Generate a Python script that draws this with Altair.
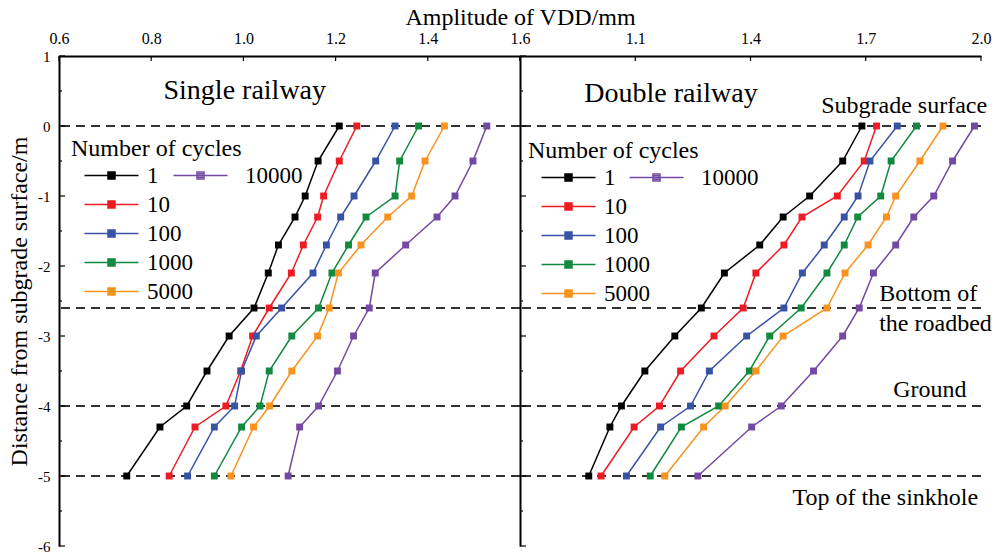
import altair as alt
import pandas as pd

FONT = "Liberation Serif"
INK = "#000000"

# depth of each measuring point below the subgrade surface (m)
depth = [0, -0.5, -1, -1.3, -1.7, -2.1, -2.6, -3, -3.5, -4, -4.3, -5]
cycles = ["1", "10", "100", "1000", "5000", "10000"]
palette = ["#000000", "#ed1c24", "#3953a4", "#11893f", "#f7931e", "#7349a3"]

# single railway: VDD amplitude (mm) per number of cycles
single_1 = [1.208, 1.162, 1.134, 1.112, 1.076, 1.054, 1.023, 0.969, 0.921, 0.877, 0.819, 0.747]
single_10 = [1.246, 1.208, 1.174, 1.161, 1.130, 1.104, 1.056, 1.020, 0.994, 0.962, 0.895, 0.839]
single_100 = [1.329, 1.287, 1.240, 1.211, 1.180, 1.151, 1.083, 1.028, 0.996, 0.981, 0.937, 0.879]
single_1000 = [1.380, 1.339, 1.329, 1.266, 1.228, 1.192, 1.163, 1.105, 1.056, 1.036, 0.996, 0.937]
single_5000 = [1.436, 1.394, 1.365, 1.313, 1.255, 1.206, 1.186, 1.161, 1.105, 1.057, 1.022, 0.973]
single_10000 = [1.528, 1.498, 1.459, 1.420, 1.352, 1.286, 1.273, 1.239, 1.204, 1.163, 1.122, 1.097]

# double railway: VDD amplitude (mm) per number of cycles
double_1 = [1.690, 1.640, 1.554, 1.485, 1.424, 1.332, 1.272, 1.203, 1.125, 1.064, 1.034, 0.979]
double_10 = [1.728, 1.696, 1.626, 1.534, 1.487, 1.414, 1.381, 1.305, 1.218, 1.163, 1.097, 1.011]
double_100 = [1.782, 1.711, 1.680, 1.644, 1.592, 1.535, 1.487, 1.390, 1.293, 1.244, 1.166, 1.077]
double_1000 = [1.832, 1.766, 1.739, 1.679, 1.644, 1.599, 1.532, 1.450, 1.397, 1.317, 1.220, 1.139]
double_5000 = [1.901, 1.841, 1.778, 1.754, 1.706, 1.646, 1.599, 1.485, 1.414, 1.334, 1.278, 1.177]
double_10000 = [1.983, 1.926, 1.877, 1.825, 1.778, 1.720, 1.683, 1.640, 1.564, 1.480, 1.403, 1.263]

single_series = [single_1, single_10, single_100, single_1000, single_5000, single_10000]
double_series = [double_1, double_10, double_100, double_1000, double_5000, double_10000]

# axes
y_major = list(range(-6, 2))
y_minor = [v + 0.5 for v in range(-6, 1)]
level_depths = [0, -2.6, -4, -5]
single_ticks = [0.6, 0.8, 1.0, 1.2, 1.4, 1.6]
double_ticks = [0.8, 1.1, 1.4, 1.7, 2.0]
double_labels = [1.1, 1.4, 1.7, 2.0]

# text annotations (data coordinates)
single_note_text = ["Single railway"]
single_note_x = [1.003]
single_note_y = [0.5]
double_note_text = ["Double railway", "Subgrade surface", "Ground", "Top of the sinkhole"]
double_note_x = [1.193, 1.800, 1.867, 1.751]
double_note_y = [0.456, 0.28, -3.77, -5.31]
title_size = [28, 24, 24, 24]
roadbed_text = ["Bottom of\nthe roadbed"]
roadbed_x = [1.735]
roadbed_y = [-2.393]

# legend symbol: line with a filled square in the middle
SYMBOL = ("M0.667,0H18.667M8.5,-1.167H10.833V1.167H8.5Z"
          "M8.5,-0.583H10.833M8.5,0.583H10.833")

LEFT_W, RIGHT_W, PANEL_H = 461, 461, 490


def legend(title, x, y, label_offset):
    opts = dict(orient="none", legendX=x, legendY=y, padding=0,
                symbolType=SYMBOL, symbolSize=36, symbolStrokeWidth=1.5,
                labelOffset=label_offset, labelFont=FONT, labelFontSize=23,
                labelColor=INK, labelLimit=300, rowPadding=5)
    if title:
        opts.update(titleFont=FONT, titleFontSize=24, titleFontWeight="normal",
                    titleColor=INK, titlePadding=3, titleLimit=400)
    return alt.Legend(**opts)


def build_panel(values, x_domain, tick_values, label_values, width,
                x_title, y_title, notes, left_notes, legend_a, legend_b):
    rows = []
    for name, vals in zip(cycles, values):
        for i, (d, v) in enumerate(zip(depth, vals)):
            rows.append({"cycles": name, "depth": d, "vdd": v, "step": i})
    df = pd.DataFrame(rows)
    main = df[df["cycles"] != "10000"]
    last = df[df["cycles"] == "10000"].assign(extra="10000")

    x_axis = dict(orient="top", values=label_values, ticks=False, tickSize=0, grid=False,
                  domainColor=INK, domainWidth=2, labelFont=FONT, labelFontSize=16,
                  labelColor=INK, labelPadding=10, labelFlush=False, labelOverlap=False)
    if x_title:
        x_axis.update(title=x_title, titleX=width, titleY=-32, titleAlign="center",
                      titleBaseline="alphabetic", titleFont=FONT, titleFontSize=24,
                      titleFontWeight="normal", titleColor=INK)
    else:
        x_axis.update(title=None)

    y_axis = dict(orient="left", values=y_major, ticks=False, tickSize=0, grid=False,
                  domainColor=INK, domainWidth=2)
    if y_title:
        y_axis.update(title=y_title, labelFont=FONT, labelFontSize=15, labelColor=INK,
                      labelPadding=9, labelExpr="'' + datum.value",
                      titleFont=FONT, titleFontSize=24, titleFontWeight="normal",
                      titleColor=INK, titlePadding=6)
    else:
        y_axis.update(title=None, labels=False)

    x_enc = alt.X("vdd:Q", scale=alt.Scale(domain=x_domain, nice=False, zero=False),
                  axis=alt.Axis(**x_axis))
    y_enc = alt.Y("depth:Q", scale=alt.Scale(domain=[-6, 1], nice=False, zero=False),
                  axis=alt.Axis(**y_axis))

    levels = alt.Chart(pd.DataFrame({"depth": level_depths})).mark_rule(
        color="#333333", strokeWidth=2, strokeDash=[9, 6]
    ).encode(y=y_enc)

    major = alt.Chart(pd.DataFrame({"depth": y_major})).mark_rule(
        color=INK, strokeWidth=1.2
    ).encode(y=y_enc, x=alt.value(0), x2=alt.value(6))
    minor = alt.Chart(pd.DataFrame({"depth": y_minor})).mark_rule(
        color=INK, strokeWidth=1.2
    ).encode(y=y_enc, x=alt.value(0), x2=alt.value(3))
    top_ticks = alt.Chart(pd.DataFrame({"vdd": tick_values})).mark_rule(
        color=INK, strokeWidth=1.2
    ).encode(x=x_enc, y=alt.value(0), y2=alt.value(5))

    color_scale = alt.Scale(domain=cycles[:5], range=palette[:5])
    lines = alt.Chart(main).mark_line(strokeWidth=1.5).encode(
        x=x_enc, y=y_enc, order="step:Q",
        color=alt.Color("cycles:N", scale=color_scale, title="Number of cycles",
                        legend=legend_a),
    )
    last_line = alt.Chart(last).mark_line(strokeWidth=1.5).encode(
        x=x_enc, y=y_enc, order="step:Q",
        stroke=alt.Stroke("extra:N", scale=alt.Scale(domain=["10000"], range=[palette[5]]),
                          title=None, legend=legend_b),
    )
    squares = alt.Chart(main).mark_square(size=48, opacity=1).encode(
        x=x_enc, y=y_enc,
        fill=alt.Fill("cycles:N", scale=color_scale, legend=None),
    )
    last_squares = alt.Chart(last).mark_square(size=48, opacity=1, color=palette[5]).encode(
        x=x_enc, y=y_enc
    )

    label_df = pd.DataFrame({"label": notes[0], "vdd": notes[1], "depth": notes[2],
                             "size": notes[3]})
    labels = alt.Chart(label_df).mark_text(
        font=FONT, color=INK, align="center", baseline="middle"
    ).encode(x=x_enc, y=y_enc, text="label:N",
             size=alt.Size("size:Q", scale=None, legend=None))
    layers = [levels, major, minor, top_ticks, lines, last_line, squares, last_squares, labels]

    if left_notes:
        left_df = pd.DataFrame({"label": left_notes[0], "vdd": left_notes[1],
                                "depth": left_notes[2]})
        layers.append(alt.Chart(left_df).mark_text(
            font=FONT, fontSize=24, color=INK, align="left", baseline="middle",
            lineBreak="\n", lineHeight=30
        ).encode(x=x_enc, y=y_enc, text="label:N"))

    return alt.layer(*layers).properties(width=width, height=PANEL_H)


single_panel = build_panel(
    single_series, [0.6, 1.6], single_ticks, single_ticks, LEFT_W,
    "Amplitude of VDD/mm", "Distance from subgrade surface/m",
    (single_note_text, single_note_x, single_note_y, title_size[:1]), None,
    legend("Number of cycles", 12, 81, 53), legend(None, 101, 108, 62),
)
double_panel = build_panel(
    double_series, [0.8, 2.0], double_ticks, double_labels, RIGHT_W,
    None, None,
    (double_note_text, double_note_x, double_note_y, title_size),
    (roadbed_text, roadbed_x, roadbed_y),
    legend("Number of cycles", 8, 83, 53), legend(None, 96, 110, 62),
)

chart = alt.hconcat(single_panel, double_panel, spacing=0, bounds="flush").resolve_scale(
    color="independent", stroke="independent", fill="independent"
).resolve_legend(
    color="independent", stroke="independent"
).properties(
    padding={"left": 7, "top": 5, "right": 0, "bottom": 0},
    background="white",
).configure_view(stroke=None)

chart.save("out.html", embed_options={"renderer": "svg", "actions": False})
